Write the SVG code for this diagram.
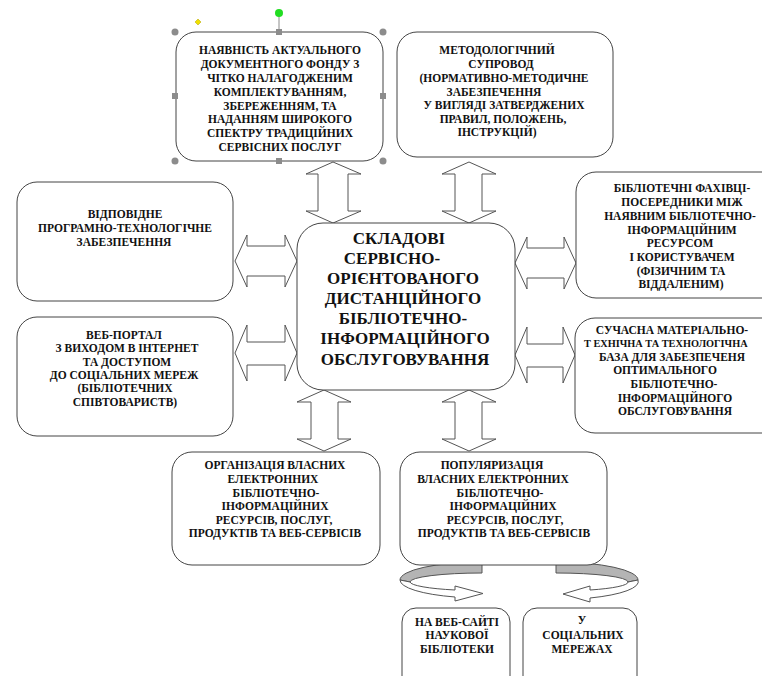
<svg xmlns="http://www.w3.org/2000/svg" width="762" height="676" viewBox="0 0 762 676">
<style>
.box{fill:#fff;stroke:#444;stroke-width:1}
.arr{fill:#fff;stroke:#555;stroke-width:1}
.t{font-family:"Liberation Serif","Times New Roman",serif;font-weight:bold;font-size:11.5px;fill:#111;text-anchor:middle}
.big{font-family:"Liberation Serif","Times New Roman",serif;font-weight:bold;font-size:17px;fill:#111;text-anchor:middle}
.hc{fill:#8c8c8c}
</style>
<rect width="762" height="676" fill="#fff"/>
<g id="connectors">
<polygon class="arr" points="333,162 361,174 348,174 348,211 361,211 333,223 306,211 318,211 318,174 306,174"/>
<polygon class="arr" points="469,162 496,174 482,174 482,211 496,211 469,223 442,211 455,211 455,174 442,174"/>
<polygon class="arr" points="324,390 351,402 338,402 338,439 351,439 324,451 297,439 311,439 311,402 297,402"/>
<polygon class="arr" points="469,390 496,402 482,402 482,439 496,439 469,451 442,439 455,439 455,402 442,402"/>
<polygon class="arr" points="235,261 247,235 247,246 285,246 285,235 297,261 285,287 285,276 247,276 247,287"/>
<polygon class="arr" points="235,353 247,325 247,342 285,342 285,325 297,353 285,381 285,365 247,365 247,381"/>
<polygon class="arr" points="515,263 527,237 527,248 564,248 564,237 576,263 564,289 564,278 527,278 527,289"/>
<polygon class="arr" points="515,355 527,327 527,344 563,344 563,327 575,355 563,383 563,367 527,367 527,383"/>
<path d="M482,562 A82,18 0 0 0 400,580 L410,582 A72,9 0 0 1 482,573 Z" fill="#b4b4b4" stroke="#555"/>
<path d="M400,580 A82,18 0 0 0 455,597 L455,601 L483,593.5 L455,586 L455,590 A72,9 0 0 1 410,582 Z" fill="#fff" stroke="#555"/>
<path d="M556,562 A82,18 0 0 1 638,580 L628,582 A72,9 0 0 0 556,573 Z" fill="#b4b4b4" stroke="#555"/>
<path d="M638,580 A82,18 0 0 1 590,598 L590,602 L563,594 L590,586 L590,590 A72,9 0 0 0 628,582 Z" fill="#fff" stroke="#555"/>
</g>
<g id="n-fond">
<rect class="box" x="176" y="32" width="207" height="129" rx="20"/>
<text class="t" x="280" y="54">НАЯВНІСТЬ АКТУАЛЬНОГО</text>
<text class="t" x="280" y="68">ДОКУМЕНТНОГО ФОНДУ З</text>
<text class="t" x="280" y="82">ЧІТКО НАЛАГОДЖЕНИМ</text>
<text class="t" x="280" y="96">КОМПЛЕКТУВАННЯМ,</text>
<text class="t" x="280" y="110">ЗБЕРЕЖЕННЯМ, ТА</text>
<text class="t" x="280" y="123">НАДАННЯМ ШИРОКОГО</text>
<text class="t" x="280" y="137">СПЕКТРУ ТРАДИЦІЙНИХ</text>
<text class="t" x="280" y="151">СЕРВІСНИХ ПОСЛУГ</text>
</g>
<g id="selection">
<circle class="hc" cx="175" cy="32" r="3.5"/>
<circle class="hc" cx="383" cy="32" r="3.5"/>
<circle class="hc" cx="175" cy="161" r="3.5"/>
<circle class="hc" cx="383" cy="161" r="3.5"/>
<rect class="hc" x="276" y="29" width="6" height="6"/>
<rect class="hc" x="276" y="158" width="6" height="6"/>
<rect class="hc" x="172" y="93" width="6" height="6"/>
<rect class="hc" x="380" y="93" width="6" height="6"/>
<line x1="279" y1="13" x2="279" y2="29" stroke="#8c8c8c"/>
<circle cx="279" cy="13" r="4" fill="#22dd22"/>
<polygon points="198,19 201,22 198,25 195,22" fill="#f0e000" stroke="#b0a000" stroke-width="0.5"/>
</g>
<g id="n-method">
<rect class="box" x="397" y="32" width="216" height="125" rx="20"/>
<text class="t" x="497" y="54">МЕТОДОЛОГІЧНИЙ</text>
<text class="t" x="501" y="68">СУПРОВОД</text>
<text class="t" x="504" y="82">(НОРМАТИВНО-МЕТОДИЧНЕ</text>
<text class="t" x="494" y="96">ЗАБЕЗПЕЧЕННЯ</text>
<text class="t" x="504" y="109">У ВИГЛЯДІ ЗАТВЕРДЖЕНИХ</text>
<text class="t" x="503" y="123">ПРАВИЛ, ПОЛОЖЕНЬ,</text>
<text class="t" x="497" y="136">ІНСТРУКЦІЙ)</text>
</g>
<g id="n-software">
<rect class="box" x="17" y="182" width="216" height="119" rx="20"/>
<text class="t" x="125" y="218">ВІДПОВІДНЕ</text>
<text class="t" x="125" y="232">ПРОГРАМНО-ТЕХНОЛОГІЧНЕ</text>
<text class="t" x="124" y="246">ЗАБЕЗПЕЧЕННЯ</text>
</g>
<g id="n-portal">
<rect class="box" x="17" y="317" width="216" height="119" rx="20"/>
<text class="t" x="124" y="339">ВЕБ-ПОРТАЛ</text>
<text class="t" x="127" y="352">З ВИХОДОМ В ІНТЕРНЕТ</text>
<text class="t" x="127" y="366">ТА ДОСТУПОМ</text>
<text class="t" x="124" y="379">ДО СОЦІАЛЬНИХ МЕРЕЖ</text>
<text class="t" x="125" y="392">(БІБЛІОТЕЧНИХ</text>
<text class="t" x="125" y="406">СПІВТОВАРИСТВ)</text>
</g>
<g id="n-staff">
<rect class="box" x="576" y="172" width="214" height="126" rx="20"/>
<text class="t" x="682" y="192">БІБЛІОТЕЧНІ ФАХІВЦІ-</text>
<text class="t" x="682" y="206">ПОСЕРЕДНИКИ МІЖ</text>
<text class="t" x="680" y="220">НАЯВНИМ БІБЛІОТЕЧНО-</text>
<text class="t" x="682" y="234">ІНФОРМАЦІЙНИМ</text>
<text class="t" x="680" y="247">РЕСУРСОМ</text>
<text class="t" x="682" y="261">І КОРИСТУВАЧЕМ</text>
<text class="t" x="681" y="275">(ФІЗИЧНИМ ТА</text>
<text class="t" x="681" y="288">ВІДДАЛЕНИМ)</text>
</g>
<g id="n-base">
<rect class="box" x="575" y="318" width="215" height="115" rx="20"/>
<text class="t" x="672" y="334">СУЧАСНА МАТЕРІАЛЬНО-</text>
<text class="t" x="584" y="347" style="text-anchor:start;font-size:10.3px">Т ЕХНІЧНА ТА ТЕХНОЛОГІЧНА</text>
<text class="t" x="672" y="361">БАЗА ДЛЯ ЗАБЕЗПЕЧЕНЯ</text>
<text class="t" x="665" y="374">ОПТИМАЛЬНОГО</text>
<text class="t" x="674" y="388">БІБЛІОТЕЧНО-</text>
<text class="t" x="675" y="402">ІНФОРМАЦІЙНОГО</text>
<text class="t" x="675" y="415">ОБСЛУГОВУВАННЯ</text>
</g>
<g id="n-center">
<rect class="box" x="297" y="223" width="218" height="167" rx="26"/>
<text class="big" x="399" y="244">СКЛАДОВІ</text>
<text class="big" x="392" y="264">СЕРВІСНО-</text>
<text class="big" x="403" y="284">ОРІЄНТОВАНОГО</text>
<text class="big" x="403" y="304">ДИСТАНЦІЙНОГО</text>
<text class="big" x="403" y="324">БІБЛІОТЕЧНО-</text>
<text class="big" x="405" y="344">ІНФОРМАЦІЙНОГО</text>
<text class="big" x="405" y="365">ОБСЛУГОВУВАННЯ</text>
</g>
<g id="n-org">
<rect class="box" x="172" y="452" width="208" height="113" rx="20"/>
<text class="t" x="275" y="469">ОРГАНІЗАЦІЯ ВЛАСНИХ</text>
<text class="t" x="273" y="483">ЕЛЕКТРОННИХ</text>
<text class="t" x="276" y="497">БІБЛІОТЕЧНО-</text>
<text class="t" x="275" y="510">ІНФОРМАЦІЙНИХ</text>
<text class="t" x="274" y="524">РЕСУРСІВ, ПОСЛУГ,</text>
<text class="t" x="275" y="537">ПРОДУКТІВ ТА ВЕБ-СЕРВІСІВ</text>
</g>
<g id="n-pop">
<rect class="box" x="400" y="452" width="207" height="113" rx="20"/>
<text class="t" x="492" y="469">ПОПУЛЯРИЗАЦІЯ</text>
<text class="t" x="493" y="483">ВЛАСНИХ ЕЛЕКТРОННИХ</text>
<text class="t" x="500" y="497">БІБЛІОТЕЧНО-</text>
<text class="t" x="503" y="510">ІНФОРМАЦІЙНИХ</text>
<text class="t" x="505" y="524">РЕСУРСІВ, ПОСЛУГ,</text>
<text class="t" x="504" y="537">ПРОДУКТІВ ТА ВЕБ-СЕРВІСІВ</text>
</g>
<g id="n-web">
<rect class="box" x="402" y="608" width="108" height="90" rx="14"/>
<text class="t" x="457" y="626">НА ВЕБ-САЙТІ</text>
<text class="t" x="457" y="639">НАУКОВОЇ</text>
<text class="t" x="457" y="653">БІБЛІОТЕКИ</text>
</g>
<g id="n-social">
<rect class="box" x="523" y="608" width="114" height="90" rx="14"/>
<text class="t" x="582" y="624">У</text>
<text class="t" x="583" y="639">СОЦІАЛЬНИХ</text>
<text class="t" x="582" y="653">МЕРЕЖАХ</text>
</g>
</svg>
